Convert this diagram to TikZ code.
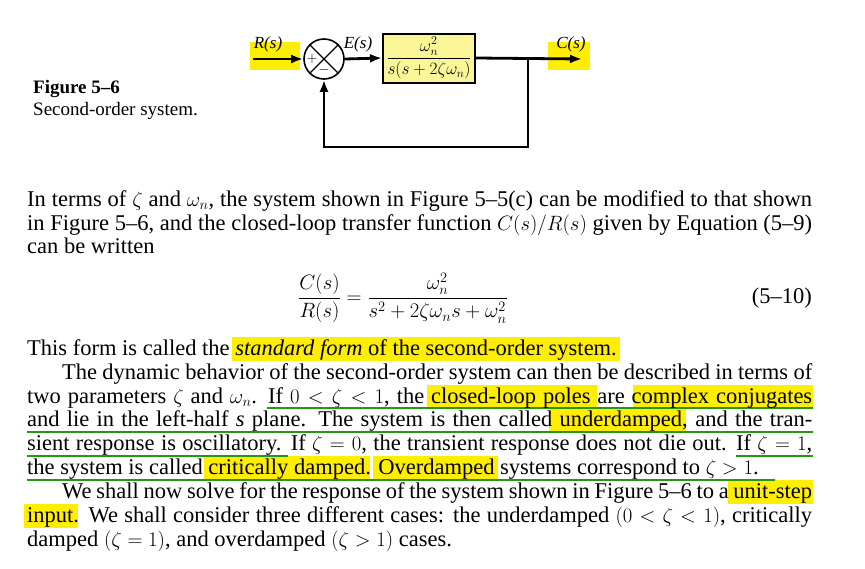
\documentclass[tikz,border=0pt]{standalone}
\usepackage{fontspec}
\setmainfont{Liberation Serif}
\usetikzlibrary{arrows.meta}
\definecolor{hl}{RGB}{255,238,0}
\definecolor{hlb}{RGB}{250,245,150}
\definecolor{ul}{RGB}{40,150,20}
\begin{document}
\begin{tikzpicture}[x=1pt,y=-1pt,
  txt/.style={anchor=base west,inner sep=0pt,font=\fontsize{22.5}{24}\selectfont},
  wire/.style={line width=2.8pt},
  arr/.style={wire,-{Latex[length=12pt,width=9pt]}},
  hlmark/.style={fill=hl,draw=none},
  uline/.style={draw=ul,line width=2pt},
  lbl/.style={font=\fontsize{17}{18}\selectfont\itshape,inner sep=0pt}]
\useasboundingbox[fill=white] (0,0) rectangle (865,568);
% highlights
\fill[hlmark] (250,42) rectangle (300,70);
\fill[hlmark] (548,42) rectangle (590,70);
\fill[hlmark] (232,337) rectangle (620,361);
\fill[hlmark] (427,385) rectangle (597,409);
\fill[hlmark] (633,385) rectangle (813,409);
\fill[hlmark] (549,409) rectangle (686,433);
\fill[hlmark] (204,456) rectangle (370,480);
\fill[hlmark] (373,456) rectangle (498,480);
\fill[hlmark] (728,480) rectangle (813,504);
\fill[hlmark] (24,504) rectangle (78,528);
% underlines
\draw[uline] (267,408) -- (813,408);
\draw[uline] (27,432) -- (813,432);
\draw[uline] (27,456) -- (288,456);
\draw[uline] (736,456) -- (813,456);
\draw[uline] (27,480) -- (775,480);
% block diagram
\node[draw,line width=2pt,fill=hlb,minimum width=92pt,minimum height=49pt,inner sep=0pt] (G) at (429,58)
  {\fontsize{17}{18}\selectfont$\displaystyle\frac{\omega_n^2}{s(s+2\zeta\omega_n)}$};
\node[draw,line width=1.6pt,circle,minimum size=40pt,inner sep=0pt] (S) at (324,59) {};
\draw[line width=1.4pt] (S.north west)--(S.south east) (S.north east)--(S.south west);
\node[font=\fontsize{15}{15}\selectfont] at (312,59) {$+$};
\node[font=\fontsize{15}{15}\selectfont] at (324,70) {$-$};
\coordinate (in) at (253,59);
\coordinate (out) at (582,59);
\coordinate (br) at (528,59);
\coordinate (b1) at (528,147);
\coordinate (b2) at (324,147);
\draw[arr] (in) -- (S.west);
\draw[arr] (S.east) -- (G.west);
\draw[arr] (G.east) -- (out);
\draw[arr] (br) -- (b1) -- (b2) -- (S.south);
\node[lbl] (R) at (268,44) {R(s)};
\node[lbl] (E) at (358,44) {E(s)};
\node[lbl] (C) at (571,44) {C(s)};
% caption
\node[anchor=base west,inner sep=0pt,font=\fontsize{19}{20}\selectfont\bfseries] (f1) at (33,93) {Figure 5–6};
\node[anchor=base west,inner sep=0pt,font=\fontsize{19}{20}\selectfont] (f2) at (33,115) {Second-order system.};
% text
\node[txt] (t1) at (27,206) {\makebox[785pt][s]{In terms of $\zeta$ and $\omega_n$, the system shown in Figure 5–5(c) can be modified to that shown}};
\node[txt] (t2) at (27,230) {\makebox[785pt][s]{in Figure 5–6, and the closed-loop transfer function $C(s)/R(s)$ given by Equation (5–9)}};
\node[txt] (t3) at (27,253) {can be written};
\node[txt,anchor=west] (eq) at (298,298) {$\displaystyle\frac{C(s)}{R(s)}=\frac{\omega_n^2}{s^2+2\zeta\omega_n s+\omega_n^2}$};
\node[txt,anchor=east] (en) at (812,298) {(5–10)};
\node[txt] (t4) at (27,355) {This form is called the \textit{standard form} of the second-order system.};
\node[txt] (t5) at (62,379) {\makebox[750pt][s]{The dynamic behavior of the second-order system can then be described in terms of}};
\node[txt] (t6) at (27,403) {\makebox[785pt][s]{two parameters $\zeta$ and $\omega_n$. If $0<\zeta<1$, the closed-loop poles are complex conjugates}};
\node[txt] (t7) at (27,426) {\makebox[785pt][s]{and lie in the left-half \textit{s} plane. The system is then called underdamped, and the tran-}};
\node[txt] (t8) at (27,450) {\makebox[785pt][s]{sient response is oscillatory. If $\zeta=0$, the transient response does not die out. If $\zeta=1$,}};
\node[txt] (t9) at (27,474) {the system is called critically damped. Overdamped systems correspond to $\zeta>1$.};
\node[txt] (t10) at (62,498) {\makebox[750pt][s]{We shall now solve for the response of the system shown in Figure 5–6 to a unit-step}};
\node[txt] (t11) at (27,522) {\makebox[785pt][s]{input. We shall consider three different cases: the underdamped $(0<\zeta<1)$, critically}};
\node[txt] (t12) at (27,546) {damped $(\zeta=1)$, and overdamped $(\zeta>1)$ cases.};
\end{tikzpicture}
\end{document}
